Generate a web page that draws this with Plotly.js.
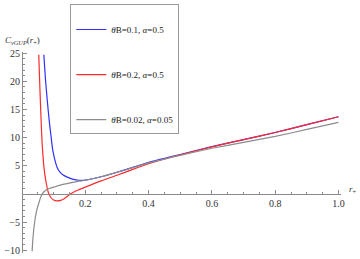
<!DOCTYPE html>
<html>
<head>
<meta charset="utf-8">
<script src="https://cdn.plot.ly/plotly-3.0.1.min.js"></script>
<style>html,body{margin:0;padding:0;background:#fff}#chart{width:360px;height:259px}</style>
</head>
<body>
<div id="chart"></div>
<script>
// Data
const blueX = [0.069, 0.074, 0.08, 0.086, 0.092, 0.097, 0.104, 0.111, 0.12, 0.13, 0.143, 0.16, 0.18, 0.2, 0.25, 0.3, 0.35, 0.4, 0.5, 0.6, 0.7, 0.8, 0.9, 1.0];
const blueY = [24.7, 20.5, 16.5, 13.0, 10.1, 7.8, 6.0, 4.7, 3.85, 3.35, 2.98, 2.62, 2.42, 2.45, 3.05, 3.85, 4.7, 5.6, 7.0, 8.4, 9.65, 10.9, 12.3, 13.7];

const redX = [0.053, 0.0555, 0.058, 0.061, 0.064, 0.068, 0.072, 0.077, 0.083, 0.09, 0.1, 0.111, 0.122, 0.132, 0.142, 0.153, 0.175, 0.2, 0.25, 0.3, 0.35, 0.4, 0.5, 0.6, 0.7, 0.8, 0.9, 1.0];
const redY = [24.7, 20.5, 16.5, 12.2, 8.6, 5.5, 3.5, 1.8, 0.3, -0.55, -1.07, -1.24, -1.15, -0.92, -0.5, 0.0, 0.65, 1.19, 2.3, 3.3, 4.35, 5.35, 6.95, 8.35, 9.65, 10.9, 12.3, 13.7];

const grayX = [0.032, 0.034, 0.037, 0.04, 0.0426, 0.048, 0.053, 0.058, 0.064, 0.074, 0.086, 0.1, 0.121, 0.153, 0.18, 0.2, 0.25, 0.3, 0.35, 0.4, 0.5, 0.6, 0.7, 0.8, 0.9, 1.0];
const grayY = [-10.2, -8.3, -6.4, -5.0, -4.0, -2.6, -1.66, -0.75, 0.0, 0.6, 0.95, 1.2, 1.55, 1.95, 2.25, 2.42, 3.05, 3.83, 4.65, 5.5, 6.85, 8.1, 9.15, 10.2, 11.45, 12.7];

const seriesNames = [
  ' <br><i>θ</i>B=0.1, <i>α</i>=0.5<br> ',
  ' <br><i>θ</i>B=0.2, <i>α</i>=0.5<br> ',
  ' <br><i>θ</i>B=0.02, <i>α</i>=0.05<br> '
];
const xTickVals = [0.2, 0.4, 0.6, 0.8, 1.0];
const xTickText = ['0.2', '0.4', '0.6', '0.8', '1.0'];
const xMinorVals = [0.05, 0.1, 0.15, 0.25, 0.3, 0.35, 0.45, 0.5, 0.55, 0.65, 0.7, 0.75, 0.85, 0.9, 0.95];
const yTickVals = [-10, -5, 5, 10, 15, 20, 25];
const yTickText = ['\u221210', '\u22125', '5', '10', '15', '20', '25'];
const yMinorVals = [-9,-8,-7,-6,-4,-3,-2,-1,1,2,3,4,6,7,8,9,11,12,13,14,16,17,18,19,21,22,23,24];

const font = 'Liberation Serif';
const yMin = -10.5, yMax = 25.2;
const mL = 21.5, mR = 18.5, mT = 51.6, mB = 6.2;
const plotW = 360 - mL - mR, plotH = 259 - mT - mB;

const traces = [
  {x: blueX, y: blueY, name: seriesNames[0], legendgroup: 'a', line: {color: '#2f2fff', width: 1.2, shape: 'spline', smoothing: 0.5}},
  {x: redX, y: redY, name: seriesNames[1], legendgroup: 'b', line: {color: '#ff2a2a', width: 1.2, shape: 'spline', smoothing: 0.5}},
  {x: grayX, y: grayY, name: seriesNames[2], legendgroup: 'c', line: {color: '#8c8c8c', width: 1.2, shape: 'spline', smoothing: 0.5}}
].map(t => Object.assign({type: 'scatter', mode: 'lines', cliponaxis: true}, t));

const axisCommon = {
  showgrid: false, zeroline: false, showline: true, linecolor: '#8a8a8a', linewidth: 1,
  ticks: 'inside', ticklen: 4, tickcolor: '#8a8a8a', tickwidth: 1,
  tickfont: {family: font, size: 10, color: '#333'},
  tickmode: 'array', anchor: 'free', fixedrange: true, automargin: false
};

const layout = {
  width: 360, height: 259,
  margin: {l: mL, r: mR, t: mT, b: mB, pad: 0, autoexpand: false},
  paper_bgcolor: '#fff', plot_bgcolor: '#fff',
  showlegend: true,
  xaxis: Object.assign({}, axisCommon, {
    range: [0, 1.008], tickvals: xTickVals, ticktext: xTickText,
    position: (0 - yMin) / (yMax - yMin), side: 'bottom',
    minor: {tickmode: 'array', tickvals: xMinorVals, ticklen: 2, ticks: 'inside', tickcolor: '#8a8a8a'}
  }),
  yaxis: Object.assign({}, axisCommon, {
    range: [yMin, yMax], tickvals: yTickVals, ticktext: yTickText,
    position: 0, side: 'left',
    minor: {tickmode: 'array', tickvals: yMinorVals, ticklen: 2, ticks: 'inside', tickcolor: '#8a8a8a'}
  }),
  legend: {
    xref: 'paper', yref: 'paper', x: (70 - mL) / plotW, y: (259 - mB - 4) / plotH, xanchor: 'left', yanchor: 'top',
    bordercolor: '#9a9a9a', borderwidth: 1, bgcolor: '#fff',
    font: {family: font, size: 9, color: '#222'},
    tracegroupgap: 7, valign: 'middle', itemclick: false
  },
  annotations: [
    {xref: 'paper', yref: 'paper', x: -0.06, y: (259 - mB - 40) / plotH, xanchor: 'left', yanchor: 'middle',
     text: '<i>C</i><sub><i>vGUP</i></sub>(<i>r</i><sub>+</sub>)', showarrow: false,
     font: {family: font, size: 9, color: '#333'}},
    {xref: 'paper', yref: 'paper', x: 1.02, y: (259 - mB - 189) / plotH, xanchor: 'left', yanchor: 'middle',
     text: '<i>r</i><sub>+</sub>', showarrow: false,
     font: {family: font, size: 9, color: '#333'}}
  ]
};

Plotly.newPlot('chart', traces, layout, {displayModeBar: false, staticPlot: true});
</script>
</body>
</html>
